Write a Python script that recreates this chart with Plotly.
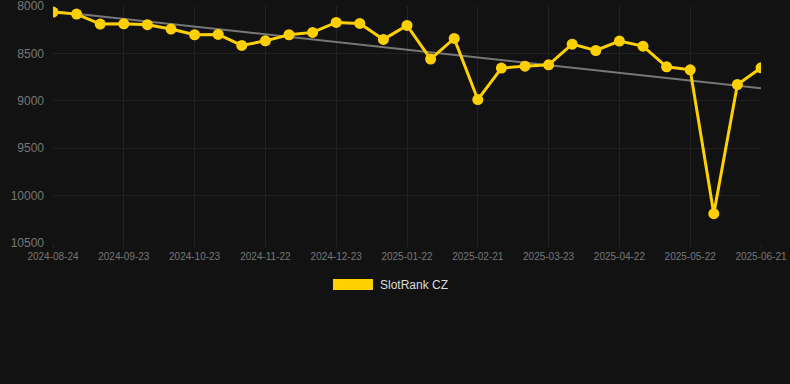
import numpy as np
import plotly.graph_objects as go

dates = ["2024-08-24", "2024-09-03", "2024-09-13", "2024-09-23", "2024-10-03", "2024-10-13",
         "2024-10-23", "2024-11-02", "2024-11-12", "2024-11-22", "2024-12-02", "2024-12-12",
         "2024-12-23", "2025-01-02", "2025-01-12", "2025-01-22", "2025-02-01", "2025-02-11",
         "2025-02-21", "2025-03-03", "2025-03-13", "2025-03-23", "2025-04-02", "2025-04-12",
         "2025-04-22", "2025-05-02", "2025-05-12", "2025-05-22", "2025-06-01", "2025-06-11",
         "2025-06-21"]
rank = [8063, 8085, 8190, 8187, 8197, 8243, 8303, 8300, 8416, 8367, 8303, 8278,
        8173, 8183, 8352, 8204, 8560, 8342, 8987, 8655, 8634, 8620, 8402, 8469,
        8370, 8423, 8641, 8673, 10191, 8828, 8652]
tick_labels = dates[::3]
y_ticks = [8000, 8500, 9000, 9500, 10000, 10500]
y_tick_text = ["8000", "8500", "9000", "9500", "10000", "10500"]
series_name = "SlotRank CZ"

idx = np.arange(len(rank))
slope, intercept = np.polyfit(idx, rank, 1)
trend = (slope * idx + intercept).tolist()

fig = go.Figure()
fig.add_trace(go.Scatter(x=dates, y=trend, mode="lines",
                         line=dict(color="#777777", width=2), hoverinfo="skip",
                         showlegend=False))
fig.add_trace(go.Scatter(x=dates, y=rank, mode="lines+markers", name=series_name,
                         line=dict(color="#FFD000", width=3),
                         marker=dict(color="#FFD000", size=11),
                         showlegend=False))

fig.add_shape(type="rect", xref="paper", yref="paper",
              x0=(333 - 53) / 708, x1=(373 - 53) / 708,
              y0=(243 - 290) / 237, y1=(243 - 279) / 237,
              fillcolor="#FFD000", line=dict(width=0))
fig.add_annotation(text=series_name, xref="paper", yref="paper",
                   x=(378 - 53) / 708, y=(243 - 284.5) / 237,
                   xanchor="left", yanchor="middle", showarrow=False,
                   font=dict(family="Liberation Sans, Arial", size=12, color="#dddddd"))

fig.update_layout(
    width=790, height=384,
    margin=dict(l=53, r=29, t=6, b=141, autoexpand=False),
    paper_bgcolor="#121212", plot_bgcolor="#121212",
    font=dict(family="Liberation Sans, Arial", color="#777777"),
    xaxis=dict(type="category", range=[0, len(dates) - 1],
               tickvals=tick_labels, ticktext=tick_labels,
               tickfont=dict(size=10, color="#777777"),
               showgrid=True, gridcolor="#222222", gridwidth=1,
               zeroline=False, showline=False, ticks="outside", ticklen=4,
               tickcolor="#222222", ticklabeloverflow="allow", automargin=False),
    yaxis=dict(range=[10500.5, 7999.5], tickvals=y_ticks, ticktext=y_tick_text,
               tickfont=dict(size=12, color="#777777"),
               showgrid=True, gridcolor="#222222", gridwidth=1,
               zeroline=False, showline=False, ticks="", ticklabelstandoff=8,
               ticklabeloverflow="allow", automargin=False),
)
fig.write_html("out.html", config={"displayModeBar": False},
               post_script="document.body.style.margin='0';document.body.style.background='#121212';")
